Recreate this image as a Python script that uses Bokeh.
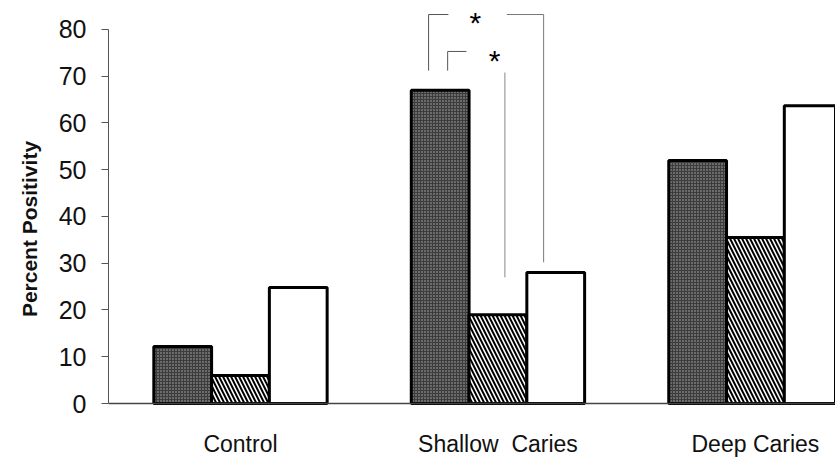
from bokeh.plotting import figure
from bokeh.models import ColumnDataSource, FixedTicker, Span, Title
from bokeh.embed import file_html
from bokeh.resources import INLINE
from bokeh.core.properties import value

# ---- data ----
categories = ["Control", "Shallow\u00a0 Caries", "Deep Caries"]
series_dark = [12.2, 67.0, 52.0]
series_hatched = [6.0, 19.0, 35.5]
series_white = [24.8, 28.0, 63.7]
y_ticks = [0, 10, 20, 30, 40, 50, 60, 70, 80]
y_title = "Percent Positivity"

bar_w = 0.2244
offsets = {"dark": -bar_w, "hatched": 0.0, "white": bar_w}
group_x = list(range(len(categories)))

p = figure(width=835, height=457, x_range=(-0.5126, 2.311), y_range=(-11.55, 86.2),
           output_backend="svg", toolbar_location=None, x_axis_location=None,
           min_border_left=105, min_border_right=0, min_border_top=0, min_border_bottom=0)
p.outline_line_color = None
p.xgrid.grid_line_color = None
p.ygrid.grid_line_color = None
p.background_fill_color = "white"
p.border_fill_color = "white"

src_dark = ColumnDataSource(dict(x=[g + offsets["dark"] for g in group_x], top=series_dark))
src_hat = ColumnDataSource(dict(x=[g + offsets["hatched"] for g in group_x], top=series_hatched))
src_white = ColumnDataSource(dict(x=[g + offsets["white"] for g in group_x], top=series_white))

p.vbar(x="x", top="top", bottom=0, width=bar_w, source=src_dark,
       fill_color="#3c3c3c", hatch_pattern="dot", hatch_color="#b0b0b0", hatch_scale=3,
       hatch_weight=1, line_color="black", line_width=3)
p.vbar(x="x", top="top", bottom=0, width=bar_w, source=src_hat,
       fill_color="white", hatch_pattern="left_diagonal_line", hatch_color="black",
       hatch_scale=8, hatch_weight=2, line_color="black", line_width=3)
p.vbar(x="x", top="top", bottom=0, width=bar_w, source=src_white,
       fill_color="white", line_color="black", line_width=3)

# baseline (x axis line)
p.add_layout(Span(location=0, dimension="width", line_color="#444444", line_width=1.5))

# category labels below the baseline
p.text(x=group_x, y=[-8.56] * len(group_x), text=categories,
       text_font=value("Liberation Sans"), text_font_size="23px",
       text_align="center", text_baseline="middle", text_color="#111111")

# significance brackets (Shallow Caries group)
vals = {"dark": series_dark, "hatched": series_hatched, "white": series_white}
g = 1
# outer bracket: dark -> white
x_l1 = g + offsets["dark"] - 0.045
x_r1 = g + offsets["white"] - 0.047
y_top1 = 83.2
p.line([x_l1, x_l1, x_l1 + 0.077], [71.2, y_top1, y_top1], line_color="#555555", line_width=1)
p.line([x_r1 - 0.143, x_r1, x_r1], [y_top1, y_top1, vals["white"][g] + 2.2], line_color="#777777", line_width=1)
# inner bracket: dark -> hatched
x_l2 = g + offsets["dark"] + 0.029
x_r2 = g + offsets["hatched"] + 0.027
y_top2 = 75.3
p.line([x_l2, x_l2, x_l2 + 0.073], [71.2, y_top2, y_top2], line_color="#555555", line_width=1)
p.line([x_r2, x_r2], [70.8, vals["hatched"][g] + 8.0], line_color="#888888", line_width=1)

p.text(x=[x_l1 + 0.182, x_l2 + 0.182], y=[81.5, 73.4], text=["*", "*"],
       text_font=value("Liberation Sans"), text_font_size="30px",
       text_align="center", text_baseline="middle", text_color="black")

# y axis
ya = p.yaxis[0]
ya.ticker = FixedTicker(ticks=y_ticks)
ya.bounds = (0, 80)
ya.axis_line_color = "#555555"
ya.axis_line_width = 1
ya.major_tick_line_color = "#555555"
ya.major_tick_out = 7
ya.major_tick_in = 0
ya.minor_tick_line_color = None
ya.major_label_standoff = 15
ya.major_label_text_font = "Liberation Sans"
ya.major_label_text_font_size = "25px"
ya.major_label_text_color = "#111111"

# y axis title as a side title
p.add_layout(Title(text=y_title, align="center", standoff=30,
                   text_font="Liberation Sans", text_font_style="bold",
                   text_font_size="21px", text_color="#111111"), "left")

open("out.html", "w").write(file_html(p, INLINE))
